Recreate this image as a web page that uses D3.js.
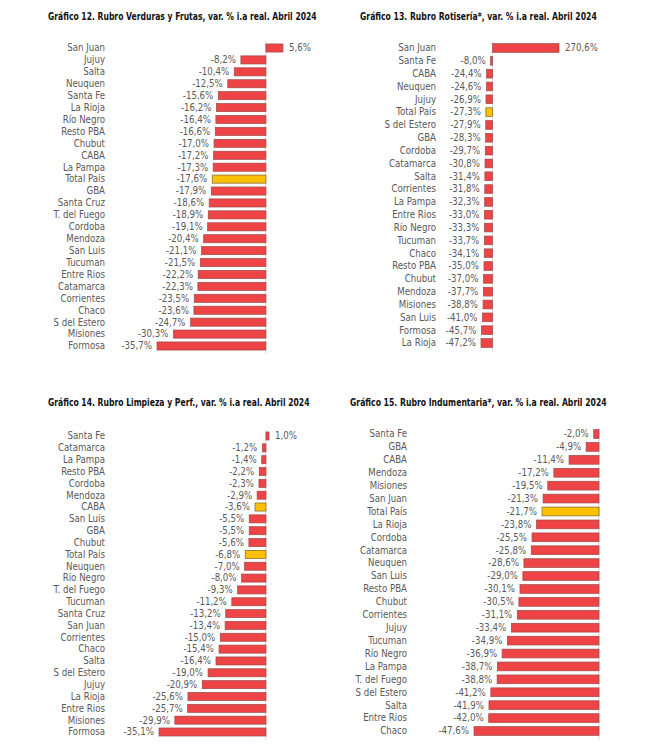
<!DOCTYPE html>
<html>
<head>
<meta charset="utf-8">
<script src="https://cdn.jsdelivr.net/npm/d3@7"></script>
<style>
  body { margin: 0; background: #fff; }
  svg text { font-family: "Liberation Sans Narrow", "DejaVu Sans Condensed", "Liberation Sans", sans-serif; }
</style>
</head>
<body>
<div id="chart"></div>
<script>
// Gráfico 12
const prov12 = ["San Juan", "Jujuy", "Salta", "Neuquen", "Santa Fe", "La Rioja", "Río Negro", "Resto PBA", "Chubut", "CABA", "La Pampa", "Total País", "GBA", "Santa Cruz", "T. del Fuego", "Cordoba", "Mendoza", "San Luis", "Tucuman", "Entre Rios", "Catamarca", "Corrientes", "Chaco", "S del Estero", "Misiones", "Formosa"]
const val12 = [5.6, -8.2, -10.4, -12.5, -15.6, -16.2, -16.4, -16.6, -17.0, -17.2, -17.3, -17.6, -17.9, -18.6, -18.9, -19.1, -20.4, -21.1, -21.5, -22.2, -22.3, -23.5, -23.6, -24.7, -30.3, -35.7]

// Gráfico 13
const prov13 = ["San Juan", "Santa Fe", "CABA", "Neuquen", "Jujuy", "Total País", "S del Estero", "GBA", "Cordoba", "Catamarca", "Salta", "Corrientes", "La Pampa", "Entre Rios", "Río Negro", "Tucuman", "Chaco", "Resto PBA", "Chubut", "Mendoza", "Misiones", "San Luis", "Formosa", "La Rioja"]
const val13 = [270.6, -8.0, -24.4, -24.6, -26.9, -27.3, -27.9, -28.3, -29.7, -30.8, -31.4, -31.8, -32.3, -33.0, -33.3, -33.7, -34.1, -35.0, -37.0, -37.7, -38.8, -41.0, -45.7, -47.2]

// Gráfico 14
const prov14 = ["Santa Fe", "Catamarca", "La Pampa", "Resto PBA", "Cordoba", "Mendoza", "CABA", "San Luis", "GBA", "Chubut", "Total País", "Neuquen", "Río Negro", "T. del Fuego", "Tucuman", "Santa Cruz", "San Juan", "Corrientes", "Chaco", "Salta", "S del Estero", "Jujuy", "La Rioja", "Entre Rios", "Misiones", "Formosa"]
const val14 = [1.0, -1.2, -1.4, -2.2, -2.3, -2.9, -3.6, -5.5, -5.5, -5.6, -6.8, -7.0, -8.0, -9.3, -11.2, -13.2, -13.4, -15.0, -15.4, -16.4, -19.0, -20.9, -25.6, -25.7, -29.9, -35.1]

// Gráfico 15
const prov15 = ["Santa Fe", "GBA", "CABA", "Mendoza", "Misiones", "San Juan", "Total País", "La Rioja", "Cordoba", "Catamarca", "Neuquen", "San Luis", "Resto PBA", "Chubut", "Corrientes", "Jujuy", "Tucuman", "Río Negro", "La Pampa", "T. del Fuego", "S del Estero", "Salta", "Entre Rios", "Chaco"]
const val15 = [-2.0, -4.9, -11.4, -17.2, -19.5, -21.3, -21.7, -23.8, -25.5, -25.8, -28.6, -29.0, -30.1, -30.5, -31.1, -33.4, -34.9, -36.9, -38.7, -38.8, -41.2, -41.9, -42.0, -47.6]

const titles = [
  "Gráfico 12. Rubro Verduras y Frutas, var. % i.a real. Abril 2024",
  "Gráfico 13. Rubro Rotisería*, var. % i.a real. Abril 2024",
  "Gráfico 14. Rubro Limpieza y Perf., var. % i.a real. Abril 2024",
  "Gráfico 15. Rubro Indumentaria*, var. % i.a real. Abril 2024"
]
const highlight14 = ["Total País", "CABA"]

const panels = [
  {title: titles[0], cats: prov12, vals: val12, hi: ["Total País"], tx: 48, tw: 269, ty: 20, labelX: 105, x0: 157, x1: 283, y0: 48, y1: 346},
  {title: titles[1], cats: prov13, vals: val13, hi: ["Total País"], tx: 360, tw: 237, ty: 20, labelX: 436, x0: 481, x1: 559, y0: 48, y1: 343},
  {title: titles[2], cats: prov14, vals: val14, hi: highlight14, tx: 48, tw: 262, ty: 406, labelX: 105, x0: 159, x1: 269, y0: 436, y1: 732},
  {title: titles[3], cats: prov15, vals: val15, hi: ["Total País"], tx: 350, tw: 257, ty: 406, labelX: 407, x0: 474, x1: 599, y0: 434, y1: 731}
]

const fmt = v => d3.format(".1f")(v).replace(".", ",").replace("−", "-") + "%"

const svg = d3.select("#chart").append("svg")
  .attr("width", 646)
  .attr("height", 755)

panels.forEach(p => {
  const g = svg.append("g")
  const data = p.cats.map((c, i) => ({cat: c, val: p.vals[i]}))

  const x = d3.scaleLinear()
    .domain([Math.min(0, d3.min(p.vals)), Math.max(0, d3.max(p.vals))])
    .range([p.x0, p.x1])
  const y = d3.scalePoint()
    .domain(p.cats)
    .range([p.y0, p.y1])
  const bh = y.step() * 0.68

  // title squeezed horizontally to mimic the narrow bold face
  const t = g.append("text")
    .attr("x", 0)
    .attr("y", 0)
    .attr("font-size", 10.5)
    .attr("font-weight", "bold")
    .attr("fill", "#111")
    .text(p.title)
  const natural = t.node().getComputedTextLength()
  t.attr("transform", `translate(${p.tx},${p.ty}) scale(${p.tw / natural},1)`)

  // zero line
  g.append("line")
    .attr("x1", x(0)).attr("x2", x(0))
    .attr("y1", p.y0 - y.step() / 2).attr("y2", p.y1 + y.step() / 2 + 2)
    .attr("stroke", "#d9d9d9")
    .attr("stroke-width", 1)

  g.selectAll("rect.bar").data(data).join("rect")
    .attr("class", "bar")
    .attr("x", d => x(Math.min(0, d.val)))
    .attr("y", d => y(d.cat) - bh / 2)
    .attr("width", d => Math.abs(x(d.val) - x(0)))
    .attr("height", bh)
    .attr("fill", d => p.hi.includes(d.cat) ? "#FFC000" : "#EE4446")
    .attr("stroke", d => p.hi.includes(d.cat) ? "#7a6330" : "#9c4a4a")
    .attr("stroke-width", 0.7)

  g.selectAll("text.cat").data(data).join("text")
    .attr("class", "cat")
    .attr("x", p.labelX)
    .attr("y", d => y(d.cat))
    .attr("dy", "0.35em")
    .attr("text-anchor", "end")
    .attr("font-size", 9.6)
    .attr("fill", "#595959")
    .text(d => d.cat)

  g.selectAll("text.val").data(data).join("text")
    .attr("class", "val")
    .attr("x", d => d.val < 0 ? x(d.val) - 5 : x(d.val) + 6)
    .attr("y", d => y(d.cat))
    .attr("dy", "0.35em")
    .attr("text-anchor", d => d.val < 0 ? "end" : "start")
    .attr("font-size", 9.6)
    .attr("fill", "#595959")
    .text(d => fmt(d.val))
})
</script>
</body>
</html>
